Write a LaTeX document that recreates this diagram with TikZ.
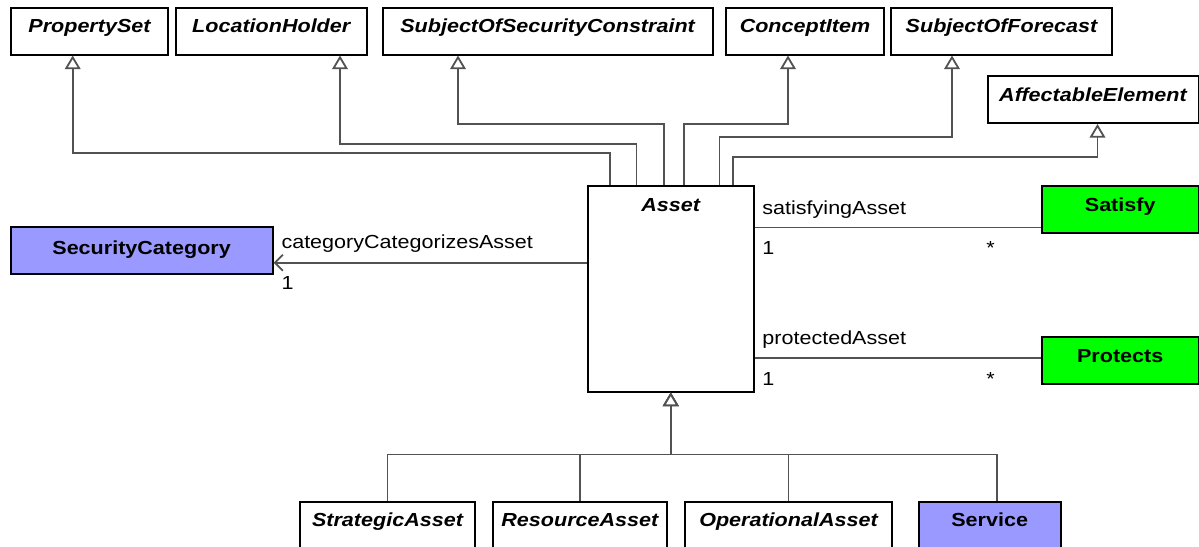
\documentclass[tikz,border=0pt]{standalone}
\usepackage{fontspec}
\setmainfont{Liberation Sans}[FakeStretch=1.14]
\usetikzlibrary{arrows.meta, calc}

\definecolor{catblue}{RGB}{153,153,255}
\definecolor{relgreen}{RGB}{0,255,0}

\begin{document}
\begin{tikzpicture}[x=0.5pt, y=-0.5pt,
  cls/.style={rectangle,draw=black,line width=1pt,fill=white,inner sep=0pt,anchor=north west,
    text height=12.5pt,text depth=11pt,font=\fontsize{9.45}{11}\selectfont\bfseries\itshape},
  concrete/.style={cls,font=\fontsize{9.45}{11}\selectfont\bfseries},
  gen/.style={-{Triangle[length=6.8pt,width=7.8pt,fill=white]},line width=0.9pt,draw=black!68},
  assoc/.style={line width=0.9pt,draw=black!68},
  lbl/.style={font=\fontsize{9.45}{11}\selectfont,inner sep=0pt}
]
  \useasboundingbox (0,0) rectangle (1199,546);
  \clip (0,0) rectangle (1199,546);
  \fill[white] (0,0) rectangle (1199,546);

  % parents
  \node[cls,minimum width=78.5pt](ps) at (10,6.5) {PropertySet};
  \node[cls,minimum width=95.25pt](lh) at (175,6.5) {LocationHolder};
  \node[cls,minimum width=165.1pt](ssc) at (381.5,6.5) {SubjectOfSecurityConstraint};
  \node[cls,minimum width=79pt](ci) at (725,6.5) {ConceptItem};
  \node[cls,minimum width=110.5pt](sf) at (890,6.5) {SubjectOfForecast};
  \node[cls,minimum width=105.5pt](ae) at (986.5,75) {AffectableElement};

  \node[cls,minimum width=82.75pt,text depth=90.25pt](asset) at (587,185) {Asset};
  \node[concrete,fill=catblue,minimum width=131pt,text height=13.5pt,text depth=10.15pt](sc) at (9.6,226) {SecurityCategory};
  \node[concrete,fill=relgreen,minimum width=78.5pt,text depth=10.85pt](sat) at (1040.7,185) {Satisfy};
  \node[concrete,fill=relgreen,minimum width=78.5pt,text depth=10.85pt](prot) at (1040.7,336) {Protects};

  % children
  \node[cls,minimum width=87.5pt,text depth=40pt](sa) at (299,500.7) {StrategicAsset};
  \node[cls,minimum width=87.15pt,text depth=40pt](ra) at (491.7,500.7) {ResourceAsset};
  \node[cls,minimum width=103.5pt,text depth=40pt](oa) at (684,500.7) {OperationalAsset};
  \node[concrete,fill=catblue,minimum width=70.9pt,text depth=40pt](svc) at (917.8,500.7) {Service};

  \foreach \p/\ax/\up/\px in {ps/22.6/32.3/62.7, lh/49.5/41/165, ssc/77/61/76.5, ci/96.8/61/63, sf/132.4/48/62, ae/145.8/28.3/111}
    \draw[gen] ($(asset.north west)+(\ax,0)$) -- ++(0,-\up) -| ($(\p.south west)+(\px,0)$);

  \coordinate (junc) at ($(asset.south)+(0,62)$);
  \foreach \c/\dx in {sa/0,ra/0,oa/0,svc/3.5}
    \draw[gen] ([xshift=\dx pt]\c.north) |- (junc) -- (asset.south);

  % associations
  \coordinate (scin) at ([yshift=-6pt]sc.east);
  \draw[assoc,-{Straight Barb[length=4pt,width=8pt]}] (scin -| asset.west) -- (scin)
    node[lbl,anchor=base west,xshift=3.5pt,yshift=6.9pt] {categoryCategorizesAsset}
    node[lbl,anchor=base west,xshift=3.5pt,yshift=-13.2pt] {1};

  \coordinate (satin) at ([yshift=-9.1pt]sat.west);
  \draw[assoc] (satin -| asset.east)
    node[lbl,anchor=base west,xshift=3.5pt,yshift=6.7pt] {satisfyingAsset}
    node[lbl,anchor=base west,xshift=3.5pt,yshift=-13.65pt] {1} -- (satin)
    node[lbl,anchor=base east,xshift=-22.5pt,yshift=-13.65pt] {*};

  \coordinate (prin) at ([yshift=1pt]prot.west);
  \draw[assoc] (prin -| asset.east)
    node[lbl,anchor=base west,xshift=3.5pt,yshift=6.7pt] {protectedAsset}
    node[lbl,anchor=base west,xshift=3.5pt,yshift=-13.65pt] {1} -- (prin)
    node[lbl,anchor=base east,xshift=-22.5pt,yshift=-13.65pt] {*};
\end{tikzpicture}
\end{document}
